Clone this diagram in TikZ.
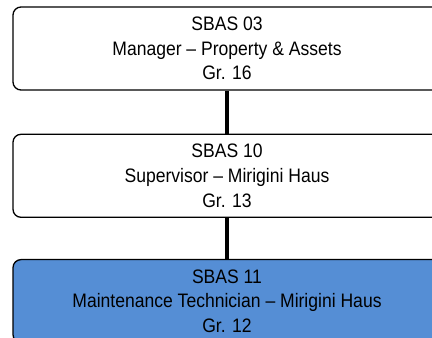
\documentclass[tikz,border=0pt]{standalone}
\usepackage{fontspec}
\setmainfont{Liberation Sans}[FakeStretch=0.9]
\usetikzlibrary{positioning}
\definecolor{PostBlue}{RGB}{85, 142, 213}

\begin{document}
\begin{tikzpicture}[
    x=1pt, y=1pt,
    node distance=43pt,
    every node/.style={font=\fontsize{19.5}{24.7}\selectfont, align=center},
    post/.style={rectangle, draw=black, fill=white, rounded corners=8pt, line width=1.3pt, minimum width=428pt, minimum height=83pt, inner sep=0pt},
    current/.style={post, fill=PostBlue},
    link/.style={draw=black, line width=3.8pt}
  ]
    \useasboundingbox (0,0) rectangle (432,338);
    \clip (0,0) rectangle (432,338);

    % Reporting chain
    \node[post] (mgr) at (227,289.5) {SBAS 03\\Manager -- Property \& Assets\\Gr. 16};
    \node[post, below=43pt of mgr] (sup) {SBAS 10\\Supervisor -- Mirigini Haus\\Gr. 13};
    \node[current, below=41pt of sup] (tech) {SBAS 11\\Maintenance Technician -- Mirigini Haus\\Gr. 12};

    % Connections
    \draw[link] (mgr) -- (sup);
    \draw[link] (sup) -- (tech);
\end{tikzpicture}
\end{document}
